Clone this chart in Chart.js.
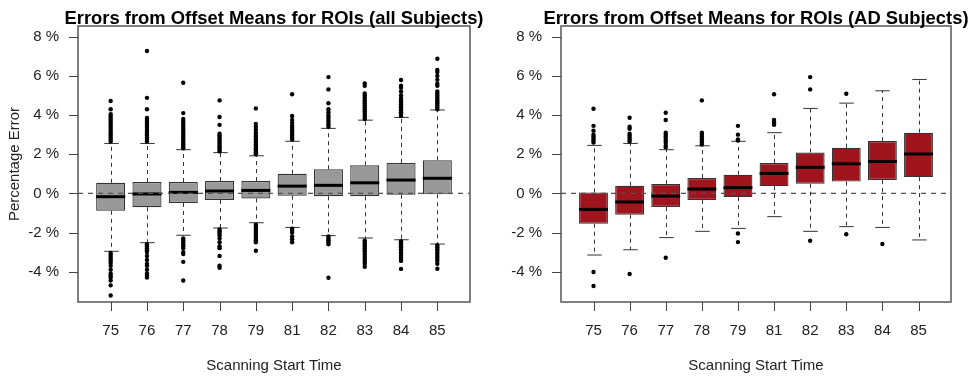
<!DOCTYPE html>
<html>
<head>
<meta charset="utf-8">
<script src="https://cdn.jsdelivr.net/npm/chart.js@4.4.1/dist/chart.umd.min.js"></script>
<style>
  html, body { margin: 0; padding: 0; background: #fff; }
  #wrap { position: relative; width: 969px; height: 376px; }
  .panel { position: absolute; top: 0; height: 376px; }
  #p1 { left: 0; width: 485px; }
  #p2 { left: 485px; width: 484px; }
</style>
</head>
<body>
<div id="wrap">
  <div class="panel" id="p1"><canvas id="chartAll"></canvas></div>
  <div class="panel" id="p2"><canvas id="chartAD"></canvas></div>
</div>
<script>
// scanning start times (categories) and y ticks
const categories = ['75', '76', '77', '78', '79', '81', '82', '83', '84', '85'];
const yTicks = [-4, -2, 0, 2, 4, 6, 8];

// all subjects - box stats (%)
const allQ1 = [-0.89, -0.71, -0.49, -0.34, -0.26, -0.12, -0.15, -0.15, -0.07, -0.05];
const allQ3 = [0.54, 0.58, 0.58, 0.63, 0.63, 1.00, 1.23, 1.43, 1.55, 1.69];
const allMed = [-0.17, -0.03, 0.05, 0.12, 0.15, 0.37, 0.41, 0.54, 0.68, 0.77];
const allLo = [-2.96, -2.52, -2.14, -1.77, -1.50, -1.74, -2.16, -2.28, -2.37, -2.59];
const allHi = [2.55, 2.55, 2.23, 2.08, 1.92, 2.66, 3.32, 3.74, 3.88, 4.26];
const allOut = [
  [2.65, 2.75, 2.85, 2.95, 3.05, 3.15, 3.25, 3.35, 3.45, 3.55, 3.65, 3.75, 3.85, 3.95, 4.05, 4.3, 4.72,
   -3.05, -3.15, -3.25, -3.35, -3.45, -3.55, -3.7, -3.9, -4.1, -4.2, -4.3, -4.45, -4.7, -5.22],
  [2.65, 2.75, 2.85, 2.95, 3.05, 3.15, 3.25, 3.35, 3.45, 3.55, 3.65, 3.75, 3.85, 4.3, 4.88, 7.27,
   -2.6, -2.7, -2.8, -2.9, -3.0, -3.2, -3.4, -3.6, -3.7, -3.9, -4.1, -4.2, -4.3],
  [2.3, 2.4, 2.5, 2.6, 2.7, 2.8, 2.9, 3.0, 3.1, 3.2, 3.3, 3.4, 3.5, 3.6, 3.7, 3.8, 4.1, 5.65,
   -2.3, -2.4, -2.5, -2.6, -2.7, -2.8, -3.0, -3.1, -3.5, -4.45],
  [2.15, 2.25, 2.35, 2.45, 2.55, 2.65, 2.75, 2.85, 2.95, 3.05, 3.5, 3.9, 4.75,
   -1.85, -1.95, -2.05, -2.15, -2.3, -2.5, -2.7, -2.8, -3.2, -3.7, -3.8],
  [2.0, 2.1, 2.2, 2.3, 2.4, 2.5, 2.6, 2.7, 2.8, 2.9, 3.0, 3.1, 3.25, 3.4, 3.55, 4.34,
   -1.6, -1.7, -1.8, -1.9, -2.0, -2.1, -2.2, -2.3, -2.4, -2.5, -2.93],
  [2.75, 2.85, 2.95, 3.05, 3.15, 3.25, 3.35, 3.45, 3.6, 3.75, 3.95, 5.06,
   -1.8, -1.9, -2.0, -2.2, -2.35, -2.5],
  [3.4, 3.5, 3.6, 3.7, 3.8, 3.9, 4.0, 4.15, 4.3, 4.6, 5.31, 5.94,
   -2.2, -2.3, -2.4, -2.5, -2.6, -4.31],
  [3.8, 3.9, 4.0, 4.1, 4.2, 4.3, 4.4, 4.5, 4.6, 4.7, 4.8, 4.9, 5.0, 5.1, 5.5, 5.62,
   -2.4, -2.5, -2.6, -2.7, -2.8, -2.9, -3.0, -3.1, -3.2, -3.3, -3.4, -3.5, -3.6, -3.75],
  [3.95, 4.05, 4.15, 4.25, 4.35, 4.45, 4.55, 4.65, 4.75, 4.85, 5.0, 5.2, 5.4, 5.5, 5.79,
   -2.45, -2.55, -2.65, -2.75, -2.85, -2.95, -3.05, -3.15, -3.25, -3.35, -3.45, -3.86],
  [4.3, 4.4, 4.5, 4.6, 4.7, 4.8, 4.9, 5.0, 5.1, 5.2, 5.5, 5.6, 5.8, 6.0, 6.2, 6.3, 6.88,
   -2.65, -2.75, -2.85, -2.95, -3.05, -3.15, -3.25, -3.35, -3.45, -3.6, -3.85]
];

// AD subjects - box stats (%)
const adQ1 = [-1.55, -1.09, -0.70, -0.34, -0.19, 0.37, 0.49, 0.60, 0.68, 0.83];
const adQ3 = [0.05, 0.39, 0.48, 0.78, 0.95, 1.55, 2.09, 2.33, 2.67, 3.10];
const adMed = [-0.82, -0.44, -0.14, 0.22, 0.29, 1.02, 1.33, 1.51, 1.63, 2.01];
const adLo = [-3.15, -2.88, -2.26, -1.94, -1.79, -1.19, -1.94, -1.70, -1.74, -2.38];
const adHi = [2.45, 2.55, 2.23, 2.43, 2.66, 3.10, 4.34, 4.61, 5.24, 5.82];
const adOut = [
  [2.6, 2.7, 2.8, 2.9, 3.0, 3.2, 3.45, 4.32, -4.02, -4.73],
  [2.65, 2.75, 2.85, 2.95, 3.05, 3.3, 3.4, 3.86, -4.12],
  [2.35, 2.45, 2.6, 2.7, 2.8, 2.9, 3.0, 3.1, 3.75, 4.12, -3.29],
  [2.5, 2.6, 2.7, 2.8, 2.9, 3.0, 3.1, 4.75],
  [2.7, 2.75, 3.0, 3.45, -2.05, -2.49],
  [3.5, 3.55, 3.65, 3.75, 5.06],
  [5.31, 5.94, -2.42],
  [5.09, -2.09],
  [-2.59],
  []
];

const FONT = '"Liberation Sans", Arial, Helvetica, sans-serif';

const boxParts = {
  id: 'boxParts',
  beforeDatasetsDraw(chart, args, o) {
    const { ctx, scales: { x, y } } = chart;
    const bars = chart.getDatasetMeta(0).data;
    ctx.save();
    ctx.strokeStyle = '#333';
    ctx.lineWidth = 1;
    o.lo.forEach((lo, i) => {
      const px = Math.round(x.getPixelForValue(i + 1)) + 0.5;
      const cap = bars[i].width / 4;
      ctx.setLineDash([4, 4]);
      ctx.beginPath();
      ctx.moveTo(px, y.getPixelForValue(o.q1[i]));
      ctx.lineTo(px, y.getPixelForValue(lo));
      ctx.moveTo(px, y.getPixelForValue(o.q3[i]));
      ctx.lineTo(px, y.getPixelForValue(o.hi[i]));
      ctx.stroke();
      ctx.setLineDash([]);
      ctx.beginPath();
      ctx.moveTo(px - cap, y.getPixelForValue(lo));
      ctx.lineTo(px + cap, y.getPixelForValue(lo));
      ctx.moveTo(px - cap, y.getPixelForValue(o.hi[i]));
      ctx.lineTo(px + cap, y.getPixelForValue(o.hi[i]));
      ctx.stroke();
    });
    ctx.restore();
  },
  afterDatasetsDraw(chart, args, o) {
    const { ctx, chartArea: a, scales: { x, y } } = chart;
    const bars = chart.getDatasetMeta(0).data;
    ctx.save();
    // medians
    ctx.strokeStyle = '#000';
    ctx.lineWidth = 3;
    o.med.forEach((m, i) => {
      const px = x.getPixelForValue(i + 1);
      const hw = bars[i].width / 2;
      ctx.beginPath();
      ctx.moveTo(px - hw, y.getPixelForValue(m));
      ctx.lineTo(px + hw, y.getPixelForValue(m));
      ctx.stroke();
    });
    // zero reference line
    ctx.strokeStyle = '#555';
    ctx.lineWidth = 1.3;
    ctx.setLineDash([5, 5]);
    ctx.beginPath();
    ctx.moveTo(a.left, y.getPixelForValue(0));
    ctx.lineTo(a.right, y.getPixelForValue(0));
    ctx.stroke();
    // plot frame
    ctx.setLineDash([]);
    ctx.strokeStyle = '#555';
    ctx.lineWidth = 1.5;
    ctx.strokeRect(a.left, a.top, a.right - a.left, a.bottom - a.top);
    // axis tick marks
    ctx.strokeStyle = '#444';
    ctx.lineWidth = 1;
    ctx.beginPath();
    x.ticks.forEach(t => {
      const px = Math.round(x.getPixelForValue(t.value)) + 0.5;
      ctx.moveTo(px, a.bottom);
      ctx.lineTo(px, a.bottom + 9);
    });
    y.ticks.forEach(t => {
      const py = Math.round(y.getPixelForValue(t.value)) + 0.5;
      ctx.moveTo(a.left - 9, py);
      ctx.lineTo(a.left, py);
    });
    ctx.stroke();
    // title centred over the plot region
    ctx.fillStyle = '#000';
    ctx.font = 'bold 18.4px ' + FONT;
    ctx.textAlign = 'center';
    ctx.textBaseline = 'alphabetic';
    ctx.fillText(o.title, (a.left + a.right) / 2, 23.5);
    ctx.restore();
  }
};

function makeChart(id, title, fill, q1, q3, med, lo, hi, out, yTitle, yWidth, padRight) {
  const pts = [];
  out.forEach((vals, i) => vals.forEach(v => pts.push({ x: i + 1, y: v })));
  return new Chart(document.getElementById(id), {
    type: 'bar',
    data: {
      datasets: [{
        type: 'bar',
        data: q1.map((v, i) => ({ x: i + 1, y: [v, q3[i]] })),
        backgroundColor: fill,
        borderColor: '#333',
        borderWidth: 1.2,
        borderSkipped: false,
        categoryPercentage: 0.8,
        barPercentage: 1.0
      }, {
        type: 'scatter',
        data: pts,
        pointRadius: 2.2,
        pointBackgroundColor: '#000',
        pointBorderWidth: 0
      }]
    },
    plugins: [boxParts],
    options: {
      responsive: false,
      animation: false,
      layout: { padding: { left: 0, right: padRight, top: 26, bottom: 0 } },
      plugins: {
        legend: { display: false },
        tooltip: { enabled: false },
        title: { display: false },
        boxParts: { q1: q1, q3: q3, med: med, lo: lo, hi: hi, title: title }
      },
      scales: {
        x: {
          type: 'linear',
          offset: false,
          min: 0.1,
          max: 10.9,
          afterBuildTicks: s => { s.ticks = categories.map((c, i) => ({ value: i + 1 })); },
          afterFit: s => { s.height = 74; },
          ticks: {
            callback: v => categories[v - 1],
            color: '#222',
            padding: 11,
            maxRotation: 0,
            autoSkip: false,
            font: { family: FONT, size: 15 }
          },
          grid: { offset: false, drawOnChartArea: false, drawTicks: true, tickLength: 9, color: 'rgba(0,0,0,0)' },
          border: { display: false },
          title: {
            display: true,
            text: 'Scanning Start Time',
            color: '#222',
            font: { family: FONT, size: 15 },
            padding: { top: 0, bottom: 1 }
          }
        },
        y: {
          min: -5.55,
          max: 8.55,
          afterBuildTicks: s => { s.ticks = yTicks.map(v => ({ value: v })); },
          afterFit: s => { s.width = yWidth; },
          ticks: {
            callback: v => v + ' %',
            color: '#222',
            padding: 10,
            font: { family: FONT, size: 15 }
          },
          grid: { drawOnChartArea: false, drawTicks: true, tickLength: 9, color: 'rgba(0,0,0,0)' },
          border: { display: false },
          title: {
            display: yTitle !== '',
            text: yTitle,
            color: '#222',
            font: { family: FONT, size: 15 },
            padding: { top: 6, bottom: 0 }
          }
        }
      }
    }
  });
}

document.getElementById('chartAll').width = 485;
document.getElementById('chartAll').height = 376;
document.getElementById('chartAD').width = 484;
document.getElementById('chartAD').height = 376;

makeChart('chartAll', 'Errors from Offset Means for ROIs (all Subjects)', '#999999',
  allQ1, allQ3, allMed, allLo, allHi, allOut, 'Percentage Error', 78, 15);
makeChart('chartAD', 'Errors from Offset Means for ROIs (AD Subjects)', '#A0141E',
  adQ1, adQ3, adMed, adLo, adHi, adOut, '', 76, 18);
</script>
</body>
</html>
